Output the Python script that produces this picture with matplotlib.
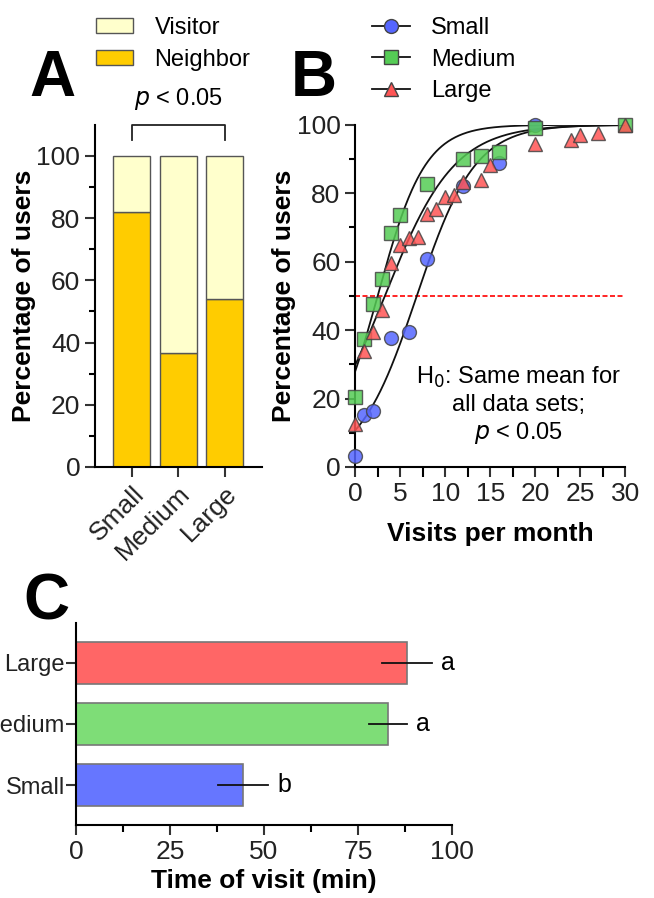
import numpy as np
import matplotlib
matplotlib.use("Agg")
import matplotlib.pyplot as plt
from matplotlib.lines import Line2D
from matplotlib.patches import Patch

plt.rcParams['font.family'] = ['Liberation Sans', 'DejaVu Sans']
plt.rcParams['axes.linewidth'] = 1.5
plt.rcParams['xtick.major.width'] = 1.5
plt.rcParams['ytick.major.width'] = 1.5
plt.rcParams['xtick.minor.width'] = 1.5
plt.rcParams['ytick.minor.width'] = 1.5

# ---- Panel A data ----
groups = ['Small', 'Medium', 'Large']
neighbor_pct = [82, 36.7, 54]
visitor_pct = [100 - v for v in neighbor_pct]

# ---- Panel B data ----
small_x = [0, 1, 2, 4, 6, 8, 12, 16, 20]
small_y = [3.1, 15.1, 16.4, 37.8, 39.3, 60.7, 82.0, 88.7, 100]
medium_x = [0, 1, 2, 3, 4, 5, 8, 12, 14, 16, 20, 30]
medium_y = [20.5, 37.5, 47.6, 55.0, 68.5, 73.6, 82.8, 90.0, 91.0, 92.0, 99.0, 100]
large_x = [0, 1, 2, 3, 4, 5, 6, 7, 8, 9, 10, 11, 12, 14, 15, 20, 24, 25, 27, 30]
large_y = [12.5, 34.0, 39.5, 46.0, 59.7, 64.8, 66.8, 67.3, 73.8, 75.5, 78.8,
           79.5, 83.3, 84.0, 88.2, 94.5, 95.5, 97.0, 97.5, 100]
# fitted logistic curves: (x at 50 %, slope)
small_fit = (6.85, 0.31)
medium_fit = (2.5, 0.38)
large_fit = (3.3, 0.26)

# ---- Panel C data ----
visit_time = [44.5, 83.0, 88.0]
visit_sd = [6.7, 5.0, 6.7]
visit_letters = ['b', 'a', 'a']
bar_colors_c = ['#6676FF', '#7EDD77', '#FF6666']

fig = plt.figure(figsize=(6.54, 8.98), dpi=100)

# ================= Panel A =================
axA = fig.add_axes([0.145, 0.48, 0.255, 0.381])
xpos = np.arange(len(groups))
axA.bar(xpos, neighbor_pct, width=0.8, color='#FFCC00', edgecolor='#555555', linewidth=1)
axA.bar(xpos, visitor_pct, bottom=neighbor_pct, width=0.8, color='#FFFFCC',
        edgecolor='#555555', linewidth=1)
axA.set_xlim(-0.8, 2.8)
axA.set_ylim(0, 110)
axA.set_yticks([0, 20, 40, 60, 80, 100])
axA.set_yticks(np.arange(10, 110, 20), minor=True)
axA.set_xticks(xpos)
axA.set_xticklabels(groups, rotation=45, ha='right', rotation_mode='anchor')
axA.tick_params(axis='both', labelsize=19, length=7, color='#333333', labelcolor='#222222')
axA.tick_params(axis='y', which='minor', length=4)
axA.spines['top'].set_visible(False)
axA.spines['right'].set_visible(False)
axA.spines['left'].set_bounds(0, 110)
axA.set_ylabel('Percentage of users', fontsize=19, fontweight='bold', labelpad=0)
# bracket
axA.plot([0, 0, 2, 2], [105, 110, 110, 105], color='#222222', lw=1.3, clip_on=False)
axA.text(1, 114, '$p$ < 0.05', ha='center', va='bottom', fontsize=17)
axA.legend(handles=[Patch(facecolor='#FFFFCC', edgecolor='#555555', label='Visitor'),
                    Patch(facecolor='#FFCC00', edgecolor='#555555', label='Neighbor')],
           loc='upper left', bbox_to_anchor=(0.128, 0.994), bbox_transform=fig.transFigure,
           frameon=False, fontsize=17, borderpad=0, handlelength=1.6, handleheight=0.6,
           labelspacing=0.4, handletextpad=0.9)

# ================= Panel B =================
axB = fig.add_axes([0.543, 0.48, 0.413, 0.381])
xx = np.linspace(0, 30, 300)
for fit in (small_fit, medium_fit, large_fit):
    axB.plot(xx, 100 / (1 + np.exp(-fit[1] * (xx - fit[0]))), color='#111111', lw=1.3, zorder=2)
axB.plot([0, 30], [50, 50], color='#FF0000', ls=(0, (3, 1.5)), lw=1.2, zorder=1)
mk = dict(ls='none', markersize=10, markeredgecolor='#444444', markeredgewidth=1,
          alpha=0.85, clip_on=False, zorder=3)
axB.plot(small_x, small_y, marker='o', markerfacecolor='#5566FF', **mk)
axB.plot(medium_x, medium_y, marker='s', markerfacecolor='#55CC55', **mk)
axB.plot(large_x, large_y, marker='^', markerfacecolor='#FF5555', **mk)
axB.set_xlim(0, 30)
axB.set_ylim(0, 100)
axB.set_xticks(np.arange(0, 31, 5))
axB.set_xticks(np.arange(2.5, 30, 5), minor=True)
axB.set_yticks(np.arange(0, 101, 20))
axB.set_yticks(np.arange(10, 100, 20), minor=True)
axB.tick_params(axis='both', labelsize=19, length=7, color='#333333', labelcolor='#222222')
axB.tick_params(axis='x', which='minor', length=7)
axB.tick_params(axis='y', which='minor', length=4)
axB.spines['top'].set_visible(False)
axB.spines['right'].set_visible(False)
axB.set_ylabel('Percentage of users', fontsize=19, fontweight='bold', labelpad=0.5)
axB.set_xlabel('Visits per month', fontsize=19, fontweight='bold', labelpad=12)
axB.text(18.1, 18, 'H$_0$: Same mean for\nall data sets;\n$p$ < 0.05', ha='center',
         va='center', fontsize=17, linespacing=1.2)
legB = [Line2D([0], [0], color='#111111', lw=1.3, marker='o', markerfacecolor='#5566FF',
               markeredgecolor='#444444', markersize=10, label='Small'),
        Line2D([0], [0], color='#111111', lw=1.3, marker='s', markerfacecolor='#55CC55',
               markeredgecolor='#444444', markersize=10, label='Medium'),
        Line2D([0], [0], color='#111111', lw=1.3, marker='^', markerfacecolor='#FF5555',
               markeredgecolor='#444444', markersize=10, label='Large')]
axB.legend(handles=legB, loc='upper left', bbox_to_anchor=(0.551, 0.994),
           bbox_transform=fig.transFigure, frameon=False, borderpad=0,
           fontsize=17, handlelength=1.6, labelspacing=0.4, handletextpad=0.9)

# ================= Panel C =================
axC = fig.add_axes([0.116, 0.0813, 0.575, 0.225])
ypos = np.arange(len(groups))
axC.barh(ypos, visit_time, height=0.68, color=bar_colors_c, edgecolor='#777777', linewidth=1.2)
for y, v, sd, let in zip(ypos, visit_time, visit_sd, visit_letters):
    axC.plot([v - sd, v + sd], [y, y], color='#111111', lw=1.3)
    axC.text(v + sd + 2.5, y, let, ha='left', va='center', fontsize=18)
axC.set_xlim(0, 100)
axC.set_ylim(-0.65, 2.65)
axC.set_yticks(ypos)
axC.set_yticklabels(groups)
axC.set_xticks([0, 25, 50, 75, 100])
axC.set_xticks(np.arange(12.5, 100, 25), minor=True)
axC.tick_params(axis='both', labelsize=19, length=7, color='#333333', labelcolor='#222222')
axC.tick_params(axis='y', labelsize=17, pad=1)
axC.tick_params(axis='x', which='minor', length=5)
axC.spines['top'].set_visible(False)
axC.spines['right'].set_visible(False)
axC.set_xlabel('Time of visit (min)', fontsize=19, fontweight='bold', labelpad=4)

# panel letters
fig.text(0.045, 0.893, 'A', fontsize=46, fontweight='bold', va='baseline')
fig.text(0.445, 0.893, 'B', fontsize=46, fontweight='bold', va='baseline')
fig.text(0.036, 0.31, 'C', fontsize=46, fontweight='bold', va='baseline')

fig.savefig('out.png', dpi=100)
